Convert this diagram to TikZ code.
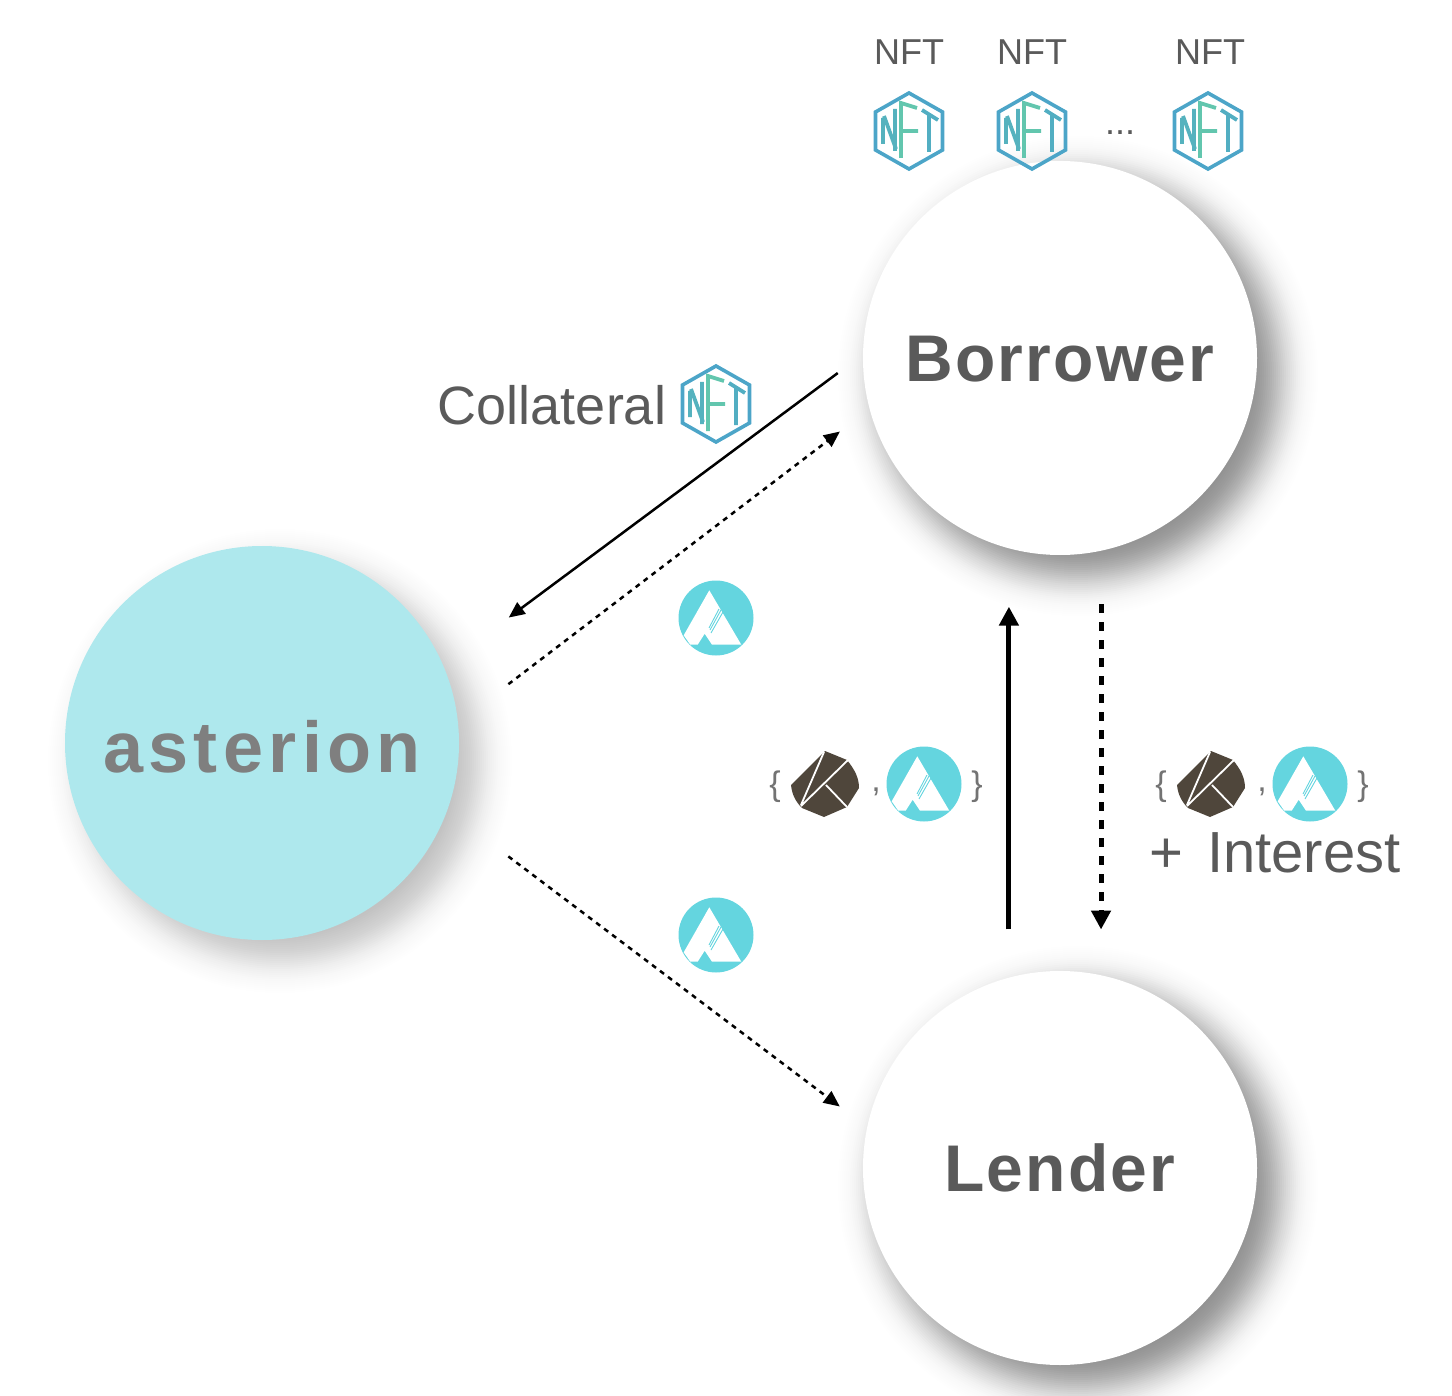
\documentclass[tikz,border=0pt]{standalone}
\usepackage{fontspec}
\setmainfont{Liberation Sans}
\newfontfamily\circfont[LetterSpace=3.4]{Liberation Sans}
\newfontfamily\astfont[LetterSpace=7.5]{Liberation Sans}
\usetikzlibrary{arrows.meta}
\definecolor{astbg}{HTML}{AEE8ED}
\definecolor{iconcyan}{HTML}{64D5DF}
\definecolor{klaycol}{HTML}{4F463B}
\definecolor{hexblue}{HTML}{4CA5C8}
\definecolor{nftn}{HTML}{55B2BE}
\definecolor{nftf}{HTML}{62C6AE}
\definecolor{nftt}{HTML}{52AEC2}
\definecolor{txtgray}{HTML}{5A5A5A}
\definecolor{asttxt}{HTML}{7F7F7F}
\tikzset{
  x=0.5pt,y=-0.5pt,
  party/.style={circle,minimum size=197pt,inner sep=0pt,fill=white,text=txtgray,text depth=0pt,font=\circfont\fontsize{33}{36}\selectfont\bfseries},
  hub/.style={party,fill=astbg,text=asttxt,font=\astfont\fontsize{36}{40}\selectfont\bfseries},
  lbl/.style={text=txtgray,inner sep=0pt},
  smalllbl/.style={lbl,font=\fontsize{18}{20}\selectfont},
  biglbl/.style={lbl,font=\fontsize{27}{30}\selectfont},
  bracelbl/.style={lbl,text=txtgray!85,font=\fontsize{17}{20}\selectfont},
  thinflow/.style={line width=1.25pt,-{Triangle[length=8pt,width=7pt]}},
  thinflowd/.style={thinflow,dash pattern=on 2.5pt off 2.5pt},
  thickflow/.style={line width=2.5pt,-{Triangle[length=9.5pt,width=9.5pt]}},
  thickflowd/.style={line width=2.5pt,-{Triangle[length=9.5pt,width=9.5pt]},dash pattern=on 4.5pt off 4.5pt},
  nfticon/.pic={
    \draw[hexblue,line width=1.8pt,line join=miter] (0,-38) -- (33.5,-19) -- (33.5,19) -- (0,38) -- (-33.5,19) -- (-33.5,-19) -- cycle;
    \draw[nftn,line width=1.9pt] (-26,-13) -- (-26,13) (-25,-15) -- (-13,18) (-14,-22) -- (-14,20);
    \draw[nftf,line width=1.9pt] (-8,27) -- (-8,-28) -- (8,-23) (-8,0) -- (9,0);
    \draw[nftt,line width=1.9pt] (13,-21) -- (29,-11) (20,-16) -- (20,21);
  },
  astericon/.pic={
    \fill[iconcyan] (0,0) circle[radius=37.5];
    \fill[white] (-6.7,-27.7) -- (25.3,26.7) -- (-4,26.7) -- (-11.3,15.7) -- (-18.3,26.7) -- (-25.7,26.7) -- (-32.3,17.3) -- cycle;
    \draw[iconcyan,line width=0.45pt] (3,-9) -- (-7,10) (5,-8) -- (-6,12) (7,-6) -- (-5,15);
  },
  klayicon/.pic={
    \fill[klaycol] (0,-33) -- (22,-24) .. controls (30,-14) and (34,-6) .. (34,4) -- (22,23) -- (-1,33) -- (-23,24) .. controls (-29,18) and (-33,11) .. (-34,1) -- cycle;
    \draw[white,line width=0.9pt] (-1,-32) -- (-24,21) (23,-24) -- (-24,22) (1,1) -- (22,23);
  }
}
\newcommand{\softshadow}[3]{%
  \foreach \r in {270,268,...,130}{%
    \pgfmathsetmacro{\op}{#3*exp(-((\r-197)/27)^2)}%
    \fill[black,opacity=\op] (#1+18,#2+18) circle[radius=\r];}%
}
\begin{document}
\begin{tikzpicture}
\useasboundingbox (0,0) rectangle (1452,1396);
\softshadow{1060}{358}{0.026}
\softshadow{1060}{1168}{0.026}
\softshadow{262}{743}{0.012}
\node[party,text height=24pt] (borrower) at (1060,358) {Borrower};
\node[party,text height=23pt] (lender) at (1060,1168) {Lender};
\node[hub,text height=29pt] (asterion) at (262,743) {asterion};
% connectors
\draw[thinflow,shorten <=15.5pt,shorten >=40.5pt] (borrower.179.7) -- (asterion.23.3);
\draw[thinflowd,shorten <=31.5pt,shorten >=18.5pt] (asterion.6.4) -- (borrower.195.3);
\draw[thinflowd,shorten <=38.1pt,shorten >=17pt] (asterion.-20.2) -- (lender.168);
\draw[thickflow,shorten <=24pt,shorten >=29pt] (lender.105.9) -- (borrower.-105.9);
\draw[thickflowd,shorten <=26.7pt,shorten >=22.7pt] (borrower.-78) -- (lender.78);
% NFT row
\node[smalllbl] (nfta) at (909,52) {NFT};
\node[smalllbl] (nftb) at (1032,52) {NFT};
\node[smalllbl] (nftc) at (1210,52) {NFT};
\pic at (909,131) {nfticon};
\pic at (1032,131) {nfticon};
\pic at (1208,131) {nfticon};
\node[smalllbl] (dots) at (1120,133) {...};
% collateral
\node[biglbl] (coll) at (552,405) {Collateral};
\pic at (716,404) {nfticon};
% token icons
\pic at (716,618) {astericon};
\pic at (716,935) {astericon};
\pic at (825,784) {klayicon};
\pic at (924,784) {astericon};
\pic at (1211,784) {klayicon};
\pic at (1310,784) {astericon};
% braces
\node[bracelbl] (bl1) at (775,787) {\{};
\node[bracelbl] (cm1) at (876,792) {,};
\node[bracelbl] (br1) at (977,787) {\}};
\node[bracelbl] (bl2) at (1161,787) {\{};
\node[bracelbl] (cm2) at (1262,792) {,};
\node[bracelbl] (br2) at (1363,787) {\}};
\node[biglbl,font=\fontsize{29}{30}\selectfont] (inter) at (1275,853) {+\ \kern4pt Interest};
\end{tikzpicture}
\end{document}
